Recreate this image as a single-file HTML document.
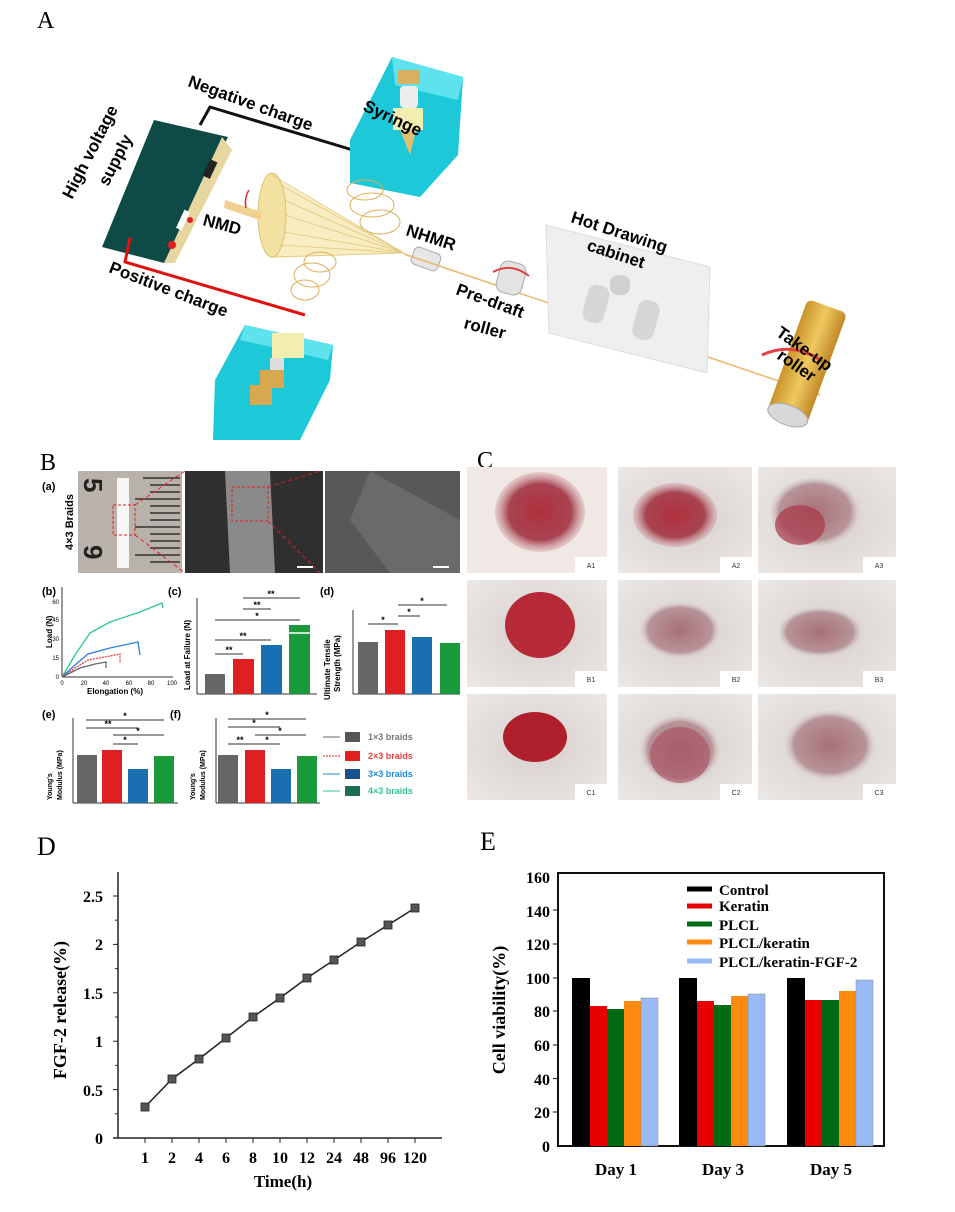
<!DOCTYPE html>
<html><head><meta charset="utf-8"><style>
html,body{margin:0;padding:0;background:#fff}
svg{display:block}
.s{font-family:"Liberation Serif",serif}
.a{font-family:"Liberation Sans",sans-serif;font-weight:bold}
</style></head><body>
<svg width="955" height="1212" viewBox="0 0 955 1212" xmlns="http://www.w3.org/2000/svg">
<defs>
<radialGradient id="fur" cx="50%" cy="50%" r="70%"><stop offset="0" stop-color="#d8cfcc"/><stop offset="1" stop-color="#ebe8e6"/></radialGradient>
<radialGradient id="wound" cx="50%" cy="50%" r="50%"><stop offset="0" stop-color="#b0303c"/><stop offset="0.7" stop-color="#a84452"/><stop offset="1" stop-color="#c58a90" stop-opacity="0.3"/></radialGradient>
<radialGradient id="wound2" cx="50%" cy="50%" r="50%"><stop offset="0" stop-color="#a87078"/><stop offset="0.8" stop-color="#b79498"/><stop offset="1" stop-color="#d8d0d0" stop-opacity="0.2"/></radialGradient>
<linearGradient id="gold" x1="0" x2="1"><stop offset="0" stop-color="#c8942a"/><stop offset="0.5" stop-color="#f0c860"/><stop offset="1" stop-color="#c08a28"/></linearGradient>
</defs>

<!-- Panel A -->
<text x="37" y="28" class="s" font-size="24">A</text>
<!-- HV supply -->
<polygon points="102,247 154,120 228,137 164,263" fill="#0f4b46"/>
<polygon points="222,137 232,150 175,263 164,263" fill="#e6d6a0"/>
<rect x="206" y="160" width="8" height="18" fill="#222" transform="rotate(25 210 169)"/>
<rect x="180" y="210" width="6" height="20" fill="#fff" transform="rotate(25 183 220)"/>
<circle cx="172" cy="245" r="4" fill="#e02020"/>
<circle cx="190" cy="220" r="3" fill="#e02020"/>
<text class="a" font-size="17" transform="translate(72,200) rotate(-63)">High voltage</text>
<text class="a" font-size="17" transform="translate(108,187) rotate(-63)">supply</text>
<polyline points="200,125 210,107 376,157" fill="none" stroke="#111" stroke-width="3"/>
<polyline points="130,238 125,262 305,315" fill="none" stroke="#e01010" stroke-width="3"/>
<text class="a" font-size="17" transform="translate(187,86) rotate(20)">Negative  charge</text>
<text class="a" font-size="17" transform="translate(108,272) rotate(21)">Positive  charge</text>
<!-- top syringe box -->
<polygon points="392,57 463,77 458,155 420,197 350,183 350,140" fill="#1dc8d8"/>
<polygon points="392,57 463,77 458,100 395,85" fill="#5ee2ee"/>
<rect x="398" y="70" width="22" height="14" fill="#d8b060"/>
<rect x="400" y="86" width="18" height="22" fill="#eee" rx="4"/>
<rect x="393" y="108" width="30" height="22" fill="#f2eeb0"/>
<polygon points="400,130 416,130 410,155" fill="#e0c070"/>
<text class="a" font-size="17" transform="translate(362,110) rotate(25)">Syringe</text>
<!-- bottom syringe box -->
<polygon points="245,325 333,345 330,380 300,440 213,440 215,380" fill="#1dc8d8"/>
<polygon points="245,325 333,345 328,360 240,340" fill="#5ee2ee"/>
<rect x="272" y="333" width="32" height="25" fill="#f2eeb0"/>
<rect x="270" y="358" width="14" height="14" fill="#ddd"/>
<rect x="260" y="370" width="24" height="18" fill="#d8a850"/>
<rect x="250" y="385" width="22" height="20" fill="#d8a850"/>
<!-- NMD cone -->
<polygon points="270,175 404,253 270,258" fill="#f7eab6" opacity="0.85"/>
<ellipse cx="272" cy="215" rx="14" ry="42" fill="#f2e1a0" stroke="#d9c27a"/>
<g stroke="#e2c67a" stroke-width="0.8">
<line x1="272" y1="175" x2="404" y2="253"/><line x1="280" y1="185" x2="404" y2="253"/><line x1="284" y1="200" x2="404" y2="253"/><line x1="285" y1="215" x2="404" y2="253"/><line x1="284" y1="232" x2="404" y2="253"/><line x1="280" y1="245" x2="404" y2="253"/><line x1="272" y1="257" x2="404" y2="253"/>
</g>
<polygon points="225,200 262,212 260,220 224,208" fill="#f0d090"/>
<path d="M246,208 q-2,-10 3,-18" stroke="#e03030" fill="none" stroke-width="1.5"/>
<text class="a" font-size="17" transform="translate(202,225) rotate(15)">NMD</text>
<!-- spirals -->
<g fill="none" stroke="#dcae58" stroke-width="1">
<ellipse cx="365" cy="190" rx="18" ry="10"/><ellipse cx="372" cy="205" rx="22" ry="12"/><ellipse cx="380" cy="222" rx="20" ry="12"/>
<ellipse cx="305" cy="290" rx="14" ry="10"/><ellipse cx="312" cy="275" rx="18" ry="12"/><ellipse cx="320" cy="262" rx="16" ry="10"/>
</g>
<!-- NHMR -->
<text class="a" font-size="17" transform="translate(405,235) rotate(18)">NHMR</text>
<rect x="412" y="250" width="28" height="18" rx="5" fill="#e6e6e6" stroke="#aaa" transform="rotate(20 426 259)"/>
<line x1="404" y1="254" x2="820" y2="395" stroke="#e9b86a" stroke-width="1.5"/>
<!-- pre-draft -->
<rect x="498" y="262" width="26" height="32" rx="8" fill="#e3e3e3" stroke="#aaa" transform="rotate(15 511 278)"/>
<path d="M493,272 q18,-10 36,4" stroke="#e04040" fill="none" stroke-width="2"/>
<text class="a" font-size="17" transform="translate(455,294) rotate(20)">Pre-draft</text>
<text class="a" font-size="17" transform="translate(463,328) rotate(15)">roller</text>
<!-- cabinet -->
<polygon points="546,225 710,267 707,373 549,333" fill="#efefef" stroke="#ddd"/>
<rect x="585" y="285" width="22" height="38" rx="9" fill="#d6d6d6" transform="rotate(15 596 304)"/>
<rect x="610" y="275" width="20" height="20" rx="8" fill="#d0d0d0"/>
<rect x="635" y="300" width="22" height="40" rx="9" fill="#d6d6d6" transform="rotate(15 646 320)"/>
<text class="a" font-size="17" transform="translate(570,222) rotate(18)">Hot Drawing</text>
<text class="a" font-size="17" transform="translate(586,250) rotate(18)">cabinet</text>
<!-- take-up -->
<g transform="rotate(20 805 365)">
<rect x="785" y="302" width="42" height="118" rx="6" fill="url(#gold)"/>
<ellipse cx="806" cy="418" rx="21" ry="10" fill="#d8d8d8" stroke="#aaa"/>
</g>
<path d="M762,355 q30,-14 60,6" stroke="#e04040" fill="none" stroke-width="3"/>
<text class="a" font-size="17" transform="translate(775,335) rotate(35)">Take-up</text>
<text class="a" font-size="17" transform="translate(776,358) rotate(35)">roller</text>

<!-- Panel B -->
<text x="40" y="470" class="s" font-size="24">B</text>
<text x="42" y="490" class="a" font-size="11">(a)</text>
<text class="a" font-size="11" transform="translate(73,550) rotate(-90)">4×3 Braids</text>
<rect x="78" y="471" width="104" height="102" fill="#b9b2aa"/>
<g stroke="#333" stroke-width="1.4">
<line x1="143" y1="478" x2="180" y2="478"/><line x1="150" y1="485" x2="180" y2="485"/><line x1="150" y1="492" x2="180" y2="492"/><line x1="135" y1="499" x2="180" y2="499"/><line x1="150" y1="506" x2="180" y2="506"/><line x1="150" y1="513" x2="180" y2="513"/><line x1="150" y1="520" x2="180" y2="520"/><line x1="135" y1="527" x2="180" y2="527"/><line x1="150" y1="534" x2="180" y2="534"/><line x1="150" y1="541" x2="180" y2="541"/><line x1="150" y1="548" x2="180" y2="548"/><line x1="135" y1="555" x2="180" y2="555"/><line x1="150" y1="562" x2="180" y2="562"/>
</g>
<text class="a" font-size="26" fill="#222" transform="translate(84,478) rotate(90)">5</text>
<text class="a" font-size="26" fill="#222" transform="translate(84,545) rotate(90)">9</text>
<rect x="117" y="478" width="12" height="90" fill="#f6f6f4"/>
<rect x="113" y="505" width="22" height="30" fill="none" stroke="#e02020" stroke-dasharray="3,2"/>
<rect x="185" y="471" width="138" height="102" fill="#2f2f2f"/>
<path d="M225,471 L270,471 L275,573 L230,573 Z" fill="#8a8a8a"/>
<rect x="232" y="487" width="36" height="34" fill="none" stroke="#e02020" stroke-dasharray="3,2"/>
<line x1="268" y1="487" x2="320" y2="471" stroke="#e02020" stroke-dasharray="4,3"/>
<line x1="268" y1="521" x2="320" y2="573" stroke="#e02020" stroke-dasharray="4,3"/>
<line x1="135" y1="505" x2="185" y2="471" stroke="#e02020" stroke-dasharray="4,3"/>
<line x1="135" y1="535" x2="185" y2="573" stroke="#e02020" stroke-dasharray="4,3"/>
<rect x="297" y="566" width="16" height="2" fill="#fff"/>
<rect x="325" y="471" width="135" height="102" fill="#585858"/>
<path d="M370,471 L460,520 L460,573 L390,573 L350,520 Z" fill="#6a6a6a"/>
<rect x="433" y="566" width="16" height="2" fill="#fff"/>

<!-- (b) -->
<text x="42" y="595" class="a" font-size="11">(b)</text>
<text class="a" font-size="8" transform="translate(52,648) rotate(-90)">Load (N)</text>
<line x1="62" y1="587" x2="62" y2="677" stroke="#333"/><line x1="62" y1="677" x2="173" y2="677" stroke="#333"/>
<g font-family="Liberation Sans" font-size="6" text-anchor="end"><text x="59" y="679">0</text><text x="59" y="660">15</text><text x="59" y="641">30</text><text x="59" y="622">45</text><text x="59" y="604">60</text></g>
<g font-family="Liberation Sans" font-size="6" text-anchor="middle"><text x="62" y="685">0</text><text x="84" y="685">20</text><text x="106" y="685">40</text><text x="129" y="685">60</text><text x="151" y="685">80</text><text x="172" y="685">100</text></g>
<text x="115" y="694" class="a" font-size="8" text-anchor="middle">Elongation (%)</text>
<polyline points="62,677 75,655 90,633 110,622 140,612 162,603 163,608" fill="none" stroke="#2ec49a" stroke-width="1.3"/>
<polyline points="62,677 75,665 88,654 110,648 138,642 140,655" fill="none" stroke="#2a80e0" stroke-width="1.3"/>
<polyline points="62,677 75,668 88,660 110,656 120,654 120,663" fill="none" stroke="#e84040" stroke-width="1.3" stroke-dasharray="2,1"/>
<polyline points="62,677 80,668 95,664 106,662 106,668" fill="none" stroke="#666" stroke-width="1.3"/>

<!-- (c) -->
<text x="168" y="595" class="a" font-size="11">(c)</text>
<text class="a" font-size="8" transform="translate(190,690) rotate(-90)">Load at Failure (N)</text>
<line x1="197" y1="598" x2="197" y2="694" stroke="#333"/><line x1="197" y1="694" x2="317" y2="694" stroke="#333"/>
<rect x="205" y="674" width="20" height="20" fill="#666"/><rect x="233" y="659" width="21" height="35" fill="#e02020"/><rect x="261" y="645" width="21" height="49" fill="#1a6fb0"/><rect x="289" y="625" width="21" height="69" fill="#1a9a3a"/>
<line x1="289" y1="633" x2="310" y2="633" stroke="#fff" stroke-width="1.5"/>
<g stroke="#333" stroke-width="1"><line x1="243" y1="598" x2="300" y2="598"/><line x1="243" y1="609" x2="271" y2="609"/><line x1="215" y1="620" x2="300" y2="620"/><line x1="215" y1="640" x2="271" y2="640"/><line x1="215" y1="654" x2="243" y2="654"/></g>
<g class="a" font-size="9" text-anchor="middle"><text x="271" y="597">**</text><text x="257" y="608">**</text><text x="257" y="619">*</text><text x="243" y="639">**</text><text x="229" y="653">**</text></g>

<!-- (d) -->
<text x="320" y="595" class="a" font-size="11">(d)</text>
<text class="a" font-size="8" transform="translate(330,700) rotate(-90)">Ultimate Tensile</text>
<text class="a" font-size="8" transform="translate(340,692) rotate(-90)">Strength (MPa)</text>
<line x1="353" y1="610" x2="353" y2="694" stroke="#333"/><line x1="353" y1="694" x2="460" y2="694" stroke="#333"/>
<rect x="358" y="642" width="20" height="52" fill="#666"/><rect x="385" y="630" width="20" height="64" fill="#e02020"/><rect x="412" y="637" width="20" height="57" fill="#1a6fb0"/><rect x="440" y="643" width="20" height="51" fill="#1a9a3a"/>
<g stroke="#333"><line x1="398" y1="605" x2="447" y2="605"/><line x1="398" y1="616" x2="420" y2="616"/><line x1="368" y1="624" x2="398" y2="624"/></g>
<g class="a" font-size="9" text-anchor="middle"><text x="422" y="604">*</text><text x="409" y="615">*</text><text x="383" y="623">*</text></g>

<!-- (e) -->
<text x="42" y="718" class="a" font-size="11">(e)</text>
<text class="a" font-size="7" transform="translate(52,800) rotate(-90)">Young's</text>
<text class="a" font-size="7" transform="translate(62,800) rotate(-90)">Modulus (MPa)</text>
<line x1="73" y1="718" x2="73" y2="803" stroke="#333"/><line x1="73" y1="803" x2="178" y2="803" stroke="#333"/>
<rect x="77" y="755" width="20" height="48" fill="#666"/><rect x="102" y="750" width="20" height="53" fill="#e02020"/><rect x="128" y="769" width="20" height="34" fill="#1a6fb0"/><rect x="154" y="756" width="20" height="47" fill="#1a9a3a"/>
<g stroke="#333"><line x1="86" y1="720" x2="164" y2="720"/><line x1="86" y1="728" x2="138" y2="728"/><line x1="113" y1="735" x2="164" y2="735"/><line x1="113" y1="744" x2="138" y2="744"/></g>
<g class="a" font-size="9" text-anchor="middle"><text x="125" y="719">*</text><text x="108" y="727">**</text><text x="138" y="734">*</text><text x="125" y="743">*</text></g>

<!-- (f) -->
<text x="170" y="718" class="a" font-size="11">(f)</text>
<text class="a" font-size="7" transform="translate(195,800) rotate(-90)">Young's</text>
<text class="a" font-size="7" transform="translate(205,800) rotate(-90)">Modulus (MPa)</text>
<line x1="216" y1="718" x2="216" y2="803" stroke="#333"/><line x1="216" y1="803" x2="320" y2="803" stroke="#333"/>
<rect x="218" y="755" width="20" height="48" fill="#666"/><rect x="245" y="750" width="20" height="53" fill="#e02020"/><rect x="271" y="769" width="20" height="34" fill="#1a6fb0"/><rect x="297" y="756" width="20" height="47" fill="#1a9a3a"/>
<g stroke="#333"><line x1="228" y1="719" x2="306" y2="719"/><line x1="228" y1="727" x2="280" y2="727"/><line x1="255" y1="735" x2="306" y2="735"/><line x1="228" y1="744" x2="254" y2="744"/><line x1="254" y1="744" x2="280" y2="744"/></g>
<g class="a" font-size="9" text-anchor="middle"><text x="267" y="718">*</text><text x="254" y="726">*</text><text x="280" y="734">*</text><text x="240" y="743">**</text><text x="267" y="743">*</text></g>

<!-- legend B -->
<g class="a" font-size="9">
<line x1="323" y1="737" x2="340" y2="737" stroke="#666"/><rect x="345" y="732" width="15" height="10" fill="#555"/><text x="368" y="740" fill="#777">1×3 braids</text>
<line x1="323" y1="756" x2="340" y2="756" stroke="#e02020" stroke-dasharray="2,1"/><rect x="345" y="751" width="15" height="10" fill="#e02020"/><text x="368" y="759" fill="#e84040">2×3 braids</text>
<line x1="323" y1="774" x2="340" y2="774" stroke="#1a8ae0"/><rect x="345" y="769" width="15" height="10" fill="#1a4f90"/><text x="368" y="777" fill="#1a8ae0">3×3 braids</text>
<line x1="323" y1="791" x2="340" y2="791" stroke="#2ec49a"/><rect x="345" y="786" width="15" height="10" fill="#1a7050"/><text x="368" y="794" fill="#2ec49a">4×3 braids</text>
</g>

<!-- Panel C -->
<text x="477" y="468" class="s" font-size="24">C</text>
<g>
<rect x="467" y="467" width="140" height="106" fill="#f0e8e4"/><ellipse cx="540" cy="512" rx="45" ry="40" fill="url(#wound)"/>
<rect x="618" y="467" width="134" height="106" fill="url(#fur)"/><ellipse cx="675" cy="515" rx="42" ry="32" fill="url(#wound)"/>
<rect x="758" y="467" width="138" height="106" fill="url(#fur)"/><ellipse cx="815" cy="512" rx="45" ry="35" fill="url(#wound2)"/><ellipse cx="800" cy="525" rx="25" ry="20" fill="#a83848" opacity="0.7"/>
<rect x="467" y="580" width="140" height="107" fill="url(#fur)"/><ellipse cx="540" cy="625" rx="35" ry="33" fill="#b52a36"/>
<rect x="618" y="580" width="134" height="107" fill="url(#fur)"/><ellipse cx="680" cy="630" rx="40" ry="28" fill="url(#wound2)"/>
<rect x="758" y="580" width="138" height="107" fill="url(#fur)"/><ellipse cx="820" cy="632" rx="42" ry="25" fill="url(#wound2)"/>
<rect x="467" y="694" width="140" height="106" fill="url(#fur)"/><ellipse cx="535" cy="737" rx="32" ry="25" fill="#b0202c"/>
<rect x="618" y="694" width="134" height="106" fill="url(#fur)"/><ellipse cx="680" cy="750" rx="40" ry="35" fill="url(#wound2)"/><ellipse cx="680" cy="755" rx="30" ry="28" fill="#a85060" opacity="0.6"/>
<rect x="758" y="694" width="138" height="106" fill="url(#fur)"/><ellipse cx="830" cy="745" rx="45" ry="35" fill="url(#wound2)"/>
</g>
<g fill="#fff"><rect x="575" y="557" width="32" height="16"/><rect x="720" y="557" width="32" height="16"/><rect x="863" y="557" width="33" height="16"/><rect x="575" y="671" width="32" height="16"/><rect x="720" y="671" width="32" height="16"/><rect x="863" y="671" width="33" height="16"/><rect x="575" y="784" width="32" height="16"/><rect x="720" y="784" width="32" height="16"/><rect x="863" y="784" width="33" height="16"/></g>
<g font-family="Liberation Sans" font-size="7" text-anchor="middle" fill="#333"><text x="591" y="568">A1</text><text x="736" y="568">A2</text><text x="879" y="568">A3</text><text x="591" y="682">B1</text><text x="736" y="682">B2</text><text x="879" y="682">B3</text><text x="591" y="795">C1</text><text x="736" y="795">C2</text><text x="879" y="795">C3</text></g>

<!-- Panel D -->
<text x="37" y="855" class="s" font-size="26">D</text>
<line x1="118" y1="872" x2="118" y2="1138" stroke="#222" stroke-width="1.5"/>
<line x1="113" y1="1138" x2="442" y2="1138" stroke="#222" stroke-width="1.5"/>
<g stroke="#222"><line x1="113" y1="1089.6" x2="118" y2="1089.6"/><line x1="113" y1="1041.2" x2="118" y2="1041.2"/><line x1="113" y1="992.8" x2="118" y2="992.8"/><line x1="113" y1="944.4" x2="118" y2="944.4"/><line x1="113" y1="896" x2="118" y2="896"/>
<line x1="115" y1="1113.8" x2="118" y2="1113.8"/><line x1="115" y1="1065.4" x2="118" y2="1065.4"/><line x1="115" y1="1017" x2="118" y2="1017"/><line x1="115" y1="968.6" x2="118" y2="968.6"/><line x1="115" y1="920.2" x2="118" y2="920.2"/>
<line x1="145" y1="1138" x2="145" y2="1143"/><line x1="172" y1="1138" x2="172" y2="1143"/><line x1="199" y1="1138" x2="199" y2="1143"/><line x1="226" y1="1138" x2="226" y2="1143"/><line x1="253" y1="1138" x2="253" y2="1143"/><line x1="280" y1="1138" x2="280" y2="1143"/><line x1="307" y1="1138" x2="307" y2="1143"/><line x1="334" y1="1138" x2="334" y2="1143"/><line x1="361" y1="1138" x2="361" y2="1143"/><line x1="388" y1="1138" x2="388" y2="1143"/><line x1="415" y1="1138" x2="415" y2="1143"/></g>
<g class="s" font-weight="bold" font-size="16" text-anchor="end"><text x="103" y="1144">0</text><text x="103" y="1096">0.5</text><text x="103" y="1047">1</text><text x="103" y="999">1.5</text><text x="103" y="950">2</text><text x="103" y="902">2.5</text></g>
<g class="s" font-weight="bold" font-size="16" text-anchor="middle"><text x="145" y="1163">1</text><text x="172" y="1163">2</text><text x="199" y="1163">4</text><text x="226" y="1163">6</text><text x="253" y="1163">8</text><text x="280" y="1163">10</text><text x="307" y="1163">12</text><text x="334" y="1163">24</text><text x="361" y="1163">48</text><text x="388" y="1163">96</text><text x="415" y="1163">120</text></g>
<text x="283" y="1187" class="s" font-weight="bold" font-size="17" text-anchor="middle">Time(h)</text>
<text class="s" font-weight="bold" font-size="18" text-anchor="middle" transform="translate(66,1010) rotate(-90)">FGF-2 release(%)</text>
<polyline points="145,1107 172,1079 199,1059 226,1038 253,1017 280,998 307,978 334,960 361,942 388,925 415,908" fill="none" stroke="#222" stroke-width="1.5"/>
<g fill="#555" stroke="#222" stroke-width="0.8"><rect x="141" y="1103" width="8" height="8"/><rect x="168" y="1075" width="8" height="8"/><rect x="195" y="1055" width="8" height="8"/><rect x="222" y="1034" width="8" height="8"/><rect x="249" y="1013" width="8" height="8"/><rect x="276" y="994" width="8" height="8"/><rect x="303" y="974" width="8" height="8"/><rect x="330" y="956" width="8" height="8"/><rect x="357" y="938" width="8" height="8"/><rect x="384" y="921" width="8" height="8"/><rect x="411" y="904" width="8" height="8"/></g>

<!-- Panel E -->
<text x="480" y="850" class="s" font-size="26">E</text>
<rect x="558" y="873" width="326" height="273" fill="none" stroke="#111" stroke-width="2"/>
<g class="s" font-weight="bold" font-size="16" text-anchor="end"><text x="550" y="1152">0</text><text x="550" y="1118">20</text><text x="550" y="1085">40</text><text x="550" y="1051">60</text><text x="550" y="1017">80</text><text x="550" y="984">100</text><text x="550" y="950">120</text><text x="550" y="917">140</text><text x="550" y="883">160</text></g>
<g stroke="#111"><line x1="553" y1="1112" x2="558" y2="1112"/><line x1="553" y1="1078.6" x2="558" y2="1078.6"/><line x1="553" y1="1045" x2="558" y2="1045"/><line x1="553" y1="1011" x2="558" y2="1011"/><line x1="553" y1="978" x2="558" y2="978"/><line x1="553" y1="944" x2="558" y2="944"/><line x1="553" y1="910" x2="558" y2="910"/></g>
<text class="s" font-weight="bold" font-size="18" text-anchor="middle" transform="translate(505,1010) rotate(-90)">Cell viability(%)</text>
<g>
<rect x="572" y="978" width="18" height="168" fill="#000"/><rect x="590" y="1006" width="17" height="140" fill="#e80000"/><rect x="607" y="1009" width="17" height="137" fill="#006a14"/><rect x="624" y="1001" width="17" height="145" fill="#ff8a10"/><rect x="641" y="998" width="17" height="148" fill="#99bbf5" stroke="#888" stroke-width="0.5"/>
<rect x="679" y="978" width="18" height="168" fill="#000"/><rect x="697" y="1001" width="17" height="145" fill="#e80000"/><rect x="714" y="1005" width="17" height="141" fill="#006a14"/><rect x="731" y="996" width="17" height="150" fill="#ff8a10"/><rect x="748" y="994" width="17" height="152" fill="#99bbf5" stroke="#888" stroke-width="0.5"/>
<rect x="787" y="978" width="18" height="168" fill="#000"/><rect x="805" y="1000" width="17" height="146" fill="#e80000"/><rect x="822" y="1000" width="17" height="146" fill="#006a14"/><rect x="839" y="991" width="17" height="155" fill="#ff8a10"/><rect x="856" y="980" width="17" height="166" fill="#99bbf5" stroke="#888" stroke-width="0.5"/>
</g>
<g stroke-width="5"><line x1="687" y1="889" x2="712" y2="889" stroke="#000"/><line x1="687" y1="906" x2="712" y2="906" stroke="#e80000"/><line x1="687" y1="924" x2="712" y2="924" stroke="#006a14"/><line x1="687" y1="942" x2="712" y2="942" stroke="#ff8a10"/><line x1="687" y1="961" x2="712" y2="961" stroke="#99bbf5"/></g>
<g class="s" font-weight="bold" font-size="15"><text x="719" y="895">Control</text><text x="719" y="911">Keratin</text><text x="719" y="930">PLCL</text><text x="719" y="948">PLCL/keratin</text><text x="719" y="967">PLCL/keratin-FGF-2</text></g>
<g class="s" font-weight="bold" font-size="17" text-anchor="middle"><text x="616" y="1175">Day 1</text><text x="723" y="1175">Day 3</text><text x="831" y="1175">Day 5</text></g>
</svg>
</body></html>
